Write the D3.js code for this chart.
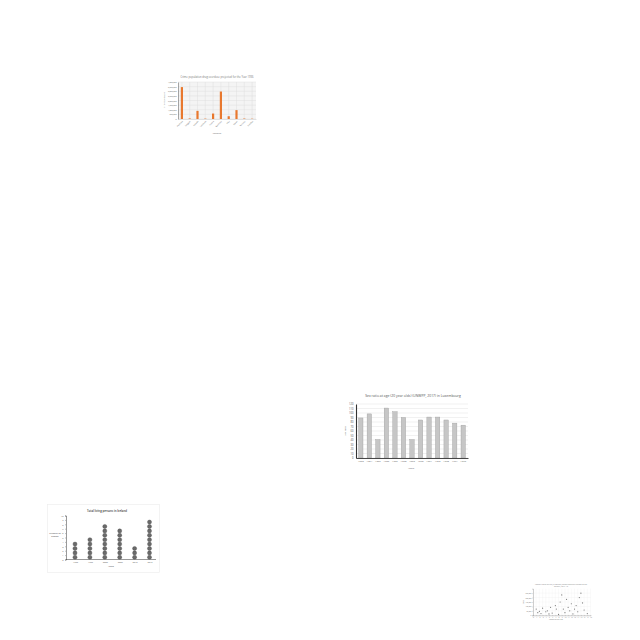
<!DOCTYPE html>
<html><head><meta charset="utf-8">
<script src="https://cdn.jsdelivr.net/npm/d3@7"></script>
<style>body{margin:0;background:#fff}svg{display:block}text{font-family:"Open Sans",sans-serif}</style>
</head><body><svg id="c" width="640" height="640"></svg>
<script>
// ---------- Chart 1 data ----------
const crimeCategories = ["Australia","Belgium","Canada","Denmark","France","Germany","Italy","Japan","Norway","Sweden"];
const crimeValues = [3450000, 60000, 880000, 40000, 590000, 2970000, 300000, 960000, 50000, 30000];
const crimeTicks = [0,500000,1000000,1500000,2000000,2500000,3000000,3500000,4000000];
// ---------- Chart 2 data ----------
const sexYears = ["1963","1964","1965","1966","1967","1968","1969","1970","1971","1972","1973","1974","1975"];
const sexValues = [89, 98, 41, 111, 103, 90, 41, 84.5, 91, 91, 84.5, 77.5, 73];
const sexTicks = [0,10,20,30,40,50,60,70,80,90,100,110,120];
// ---------- Chart 3 data ----------
const dotYears = ["1990","1995","2000","2005","2010","2015"];
const dotValues = [4, 5, 8, 7, 3, 9];
const dotTicks = [0,1,2,3,4,5,6,7,8,9,10];
// ---------- Chart 4 data ----------
const scatterMonths = [1,1.5,2,2.5,3,4,4.5,5,5.5,6,7,7.3,8,8.5,9,9.5,10,10.5,11,11.5,12,12.5,13,13.5,14,14.5,15,15.5,16,17];
const scatterValues = [70000,30000,45000,20000,80000,40000,50000,15000,90000,25000,110000,70000,10000,150000,230000,70000,30000,180000,90000,50000,130000,15000,70000,110000,40000,200000,250000,140000,60000,20000];
const scatterXTicks = [0,1,2,3,4,5,6,7,8,9,10,11,12,13,14,15,16,17,18];
const scatterYTicks = [0,50000,100000,150000,200000,250000];

const svg = d3.select("#c");

// ================= Chart 1 =================
(function(){
  const g = svg.append("g");
  const L=178,R=256,T=82,B=119;
  const x = d3.scaleBand().domain(crimeCategories).range([L,R]).paddingInner(0.72).paddingOuter(0.36);
  const y = d3.scaleLinear().domain([0,4000000]).range([B,T]);
  g.append("rect").attr("x",L).attr("y",T).attr("width",R-L).attr("height",B-T).attr("fill","#f4f4f4");
  g.selectAll("line.h").data(crimeTicks).join("line").attr("x1",L).attr("x2",R)
    .attr("y1",d=>y(d)).attr("y2",d=>y(d)).attr("stroke","#dcdcdc").attr("stroke-width",0.4);
  g.selectAll("line.v").data(crimeCategories).join("line")
    .attr("x1",d=>x(d)+x.bandwidth()/2).attr("x2",d=>x(d)+x.bandwidth()/2)
    .attr("y1",T).attr("y2",B).attr("stroke","#dcdcdc").attr("stroke-width",0.4);
  g.selectAll("rect.bar").data(crimeValues).join("rect").attr("class","bar")
    .attr("x",(d,i)=>x(crimeCategories[i])).attr("width",x.bandwidth())
    .attr("y",d=>y(d)).attr("height",d=>B-y(d)).attr("fill","#e8782e");
  const ya = g.append("g").attr("transform",`translate(${L},0)`)
    .call(d3.axisLeft(y).tickValues(crimeTicks).tickSize(0).tickPadding(1.5));
  ya.select(".domain").attr("stroke","#555").attr("stroke-width",0.5);
  ya.selectAll("text").attr("font-size",1.9).attr("fill","#666").style("font-family","Open Sans");
  const xa = g.append("g").attr("transform",`translate(0,${B})`)
    .call(d3.axisBottom(x).tickSize(0).tickPadding(1));
  xa.select(".domain").attr("stroke","#bbb").attr("stroke-width",0.4);
  xa.selectAll("text").attr("font-size",1.9).attr("fill","#666").style("font-family","Open Sans")
    .attr("text-anchor","end").attr("dy","0.3em").attr("transform","translate(0,1.5) rotate(-45)");
  g.append("text").attr("x",217).attr("y",77.5).attr("text-anchor","middle").attr("font-size",2.6).attr("fill","#777")
    .text("Crime population drug overdose projected for the Year 1996");
  g.append("text").attr("transform","translate(165,100) rotate(-90)").attr("text-anchor","middle").attr("font-size",1.9).attr("fill","#666")
    .text("Crime population");
  g.append("text").attr("x",217).attr("y",133.5).attr("text-anchor","middle").attr("font-size",1.9).attr("fill","#666").text("Countries");
})();

// ================= Chart 2 =================
(function(){
  const g = svg.append("g");
  const L=356,R=468,T=404,B=458;
  const x = d3.scaleBand().domain(sexYears).range([L,R]).paddingInner(0.48).paddingOuter(0.3);
  const y = d3.scaleLinear().domain([0,120]).range([B,T]);
  g.selectAll("line.h").data(sexTicks).join("line").attr("x1",L).attr("x2",R)
    .attr("y1",d=>y(d)).attr("y2",d=>y(d)).attr("stroke","#e2e2e2").attr("stroke-width",0.5);
  g.selectAll("rect.bar").data(sexValues).join("rect").attr("class","bar")
    .attr("x",(d,i)=>x(sexYears[i])).attr("width",x.bandwidth())
    .attr("y",d=>y(d)).attr("height",d=>B-y(d)).attr("fill","#c6c6c6").attr("stroke","#999").attr("stroke-width",0.35);
  const ya = g.append("g").attr("transform",`translate(${L},0)`)
    .call(d3.axisLeft(y).tickValues(sexTicks).tickSize(0).tickPadding(2.5));
  ya.select(".domain").attr("stroke","#333").attr("stroke-width",1.1);
  ya.selectAll("text").attr("font-size",2.6).attr("fill","#555").style("font-family","Open Sans");
  const xa = g.append("g").attr("transform",`translate(0,${B})`)
    .call(d3.axisBottom(x).tickSize(0).tickPadding(2));
  xa.select(".domain").attr("stroke","#333").attr("stroke-width",0.9);
  xa.selectAll("text").attr("font-size",2.5).attr("fill","#555").style("font-family","Open Sans");
  g.append("text").attr("x",413).attr("y",396.5).attr("text-anchor","middle").attr("font-size",3.4).attr("fill","#555")
    .text("Sex ratio at age (20 year olds) (UNWPP, 2017) in Luxembourg");
  g.append("text").attr("transform","translate(346,431) rotate(-90)").attr("text-anchor","middle").attr("font-size",2.4).attr("fill","#666")
    .text("Sex ratio");
  g.append("text").attr("x",411).attr("y",468.5).attr("text-anchor","middle").attr("font-size",2.4).attr("fill","#666").text("Years");
})();

// ================= Chart 3 =================
(function(){
  const g = svg.append("g");
  const L=66,R=156,T=515.5,B=559.5;
  g.append("rect").attr("x",47.5).attr("y",504.5).attr("width",112).attr("height",68).attr("fill","none").attr("stroke","#ececec").attr("stroke-width",0.6);
  const x = d3.scalePoint().domain(dotYears).range([75,149.5]);
  const y = d3.scaleLinear().domain([0,10]).range([B,T]);
  const ya = g.append("g").attr("transform",`translate(${L},0)`)
    .call(d3.axisLeft(y).tickValues(dotTicks).tickSize(1).tickPadding(1.5));
  ya.select(".domain").attr("stroke","#333").attr("stroke-width",0.5);
  ya.selectAll(".tick line").attr("stroke","#333").attr("stroke-width",0.3);
  ya.selectAll("text").attr("font-size",2.2).attr("fill","#555").style("font-family","Open Sans");
  const xa = g.append("g").attr("transform",`translate(0,${B})`)
    .call(d3.axisBottom(x).tickSize(0).tickPadding(2.2));
  xa.select(".domain").remove();
  g.append("line").attr("x1",L).attr("x2",R).attr("y1",B).attr("y2",B).attr("stroke","#333").attr("stroke-width",0.5);
  xa.selectAll("text").attr("font-size",2.2).attr("fill","#555").style("font-family","Open Sans");
  const dots = [];
  dotValues.forEach((v,i)=>{ for(let k=0;k<v;k++) dots.push({c:dotYears[i],k}); });
  g.selectAll("circle").data(dots).join("circle")
    .attr("cx",d=>x(d.c)).attr("cy",d=>y(d.k+0.5)).attr("r",2.05)
    .attr("fill","#6a6a6a").attr("stroke","#444").attr("stroke-width",0.35);
  g.append("text").attr("x",107).attr("y",512).attr("text-anchor","middle").attr("font-size",2.8).attr("font-weight","600").attr("fill","#333")
    .text("Total living persons in Iceland");
  g.append("text").attr("x",55).attr("y",534).attr("text-anchor","middle").attr("font-size",2.3).attr("fill","#444").text("number of");
  g.append("text").attr("x",55).attr("y",537).attr("text-anchor","middle").attr("font-size",2.3).attr("fill","#444").text("people");
  g.append("text").attr("x",111).attr("y",567).attr("text-anchor","middle").attr("font-size",2.3).attr("fill","#444").text("Years");
})();

// ================= Chart 4 =================
(function(){
  const g = svg.append("g");
  const L=533,R=590.5,T=588.7,B=615.3;
  const x = d3.scaleLinear().domain([0,18]).range([L,R]);
  const y = d3.scaleLinear().domain([0,300000]).range([B,T]);
  g.selectAll("line.v").data(scatterXTicks).join("line").attr("x1",d=>x(d)).attr("x2",d=>x(d))
    .attr("y1",T).attr("y2",B).attr("stroke","#eee").attr("stroke-width",0.3);
  g.selectAll("line.h").data(scatterYTicks).join("line").attr("x1",L).attr("x2",R)
    .attr("y1",d=>y(d)).attr("y2",d=>y(d)).attr("stroke","#eee").attr("stroke-width",0.3);
  const ya = g.append("g").attr("transform",`translate(${L},0)`)
    .call(d3.axisLeft(y).tickValues(scatterYTicks).tickSize(0.8).tickPadding(0.8));
  ya.select(".domain").attr("stroke","#888").attr("stroke-width",0.4);
  ya.selectAll(".tick line").attr("stroke","#888").attr("stroke-width",0.3);
  ya.selectAll("text").attr("font-size",1.6).attr("fill","#777").style("font-family","Open Sans");
  const xa = g.append("g").attr("transform",`translate(0,${B})`)
    .call(d3.axisBottom(x).tickValues(scatterXTicks).tickSize(0.8).tickPadding(0.5));
  xa.select(".domain").attr("stroke","#888").attr("stroke-width",0.4);
  xa.selectAll(".tick line").attr("stroke","#888").attr("stroke-width",0.3);
  xa.selectAll("text").attr("font-size",1.6).attr("fill","#777").style("font-family","Open Sans");
  g.selectAll("circle").data(scatterValues).join("circle")
    .attr("cx",(d,i)=>x(scatterMonths[i])).attr("cy",d=>y(d)).attr("r",0.6).attr("fill","#777");
  g.append("text").attr("x",561).attr("y",584.5).attr("text-anchor","middle").attr("font-size",1.8).attr("fill","#888")
    .text("Monthly sales of rice (in tonnes) across different regions of the");
  g.append("text").attr("x",561).attr("y",587).attr("text-anchor","middle").attr("font-size",1.8).attr("fill","#888")
    .text("country, 2017-18");
  g.append("text").attr("x",556).attr("y",620).attr("text-anchor","middle").attr("font-size",1.7).attr("fill","#777").text("Month of the year");
  g.append("text").attr("transform","translate(523.5,602) rotate(-90)").attr("text-anchor","middle").attr("font-size",1.6).attr("fill","#777").text("Sales");
})();
</script></body></html>
